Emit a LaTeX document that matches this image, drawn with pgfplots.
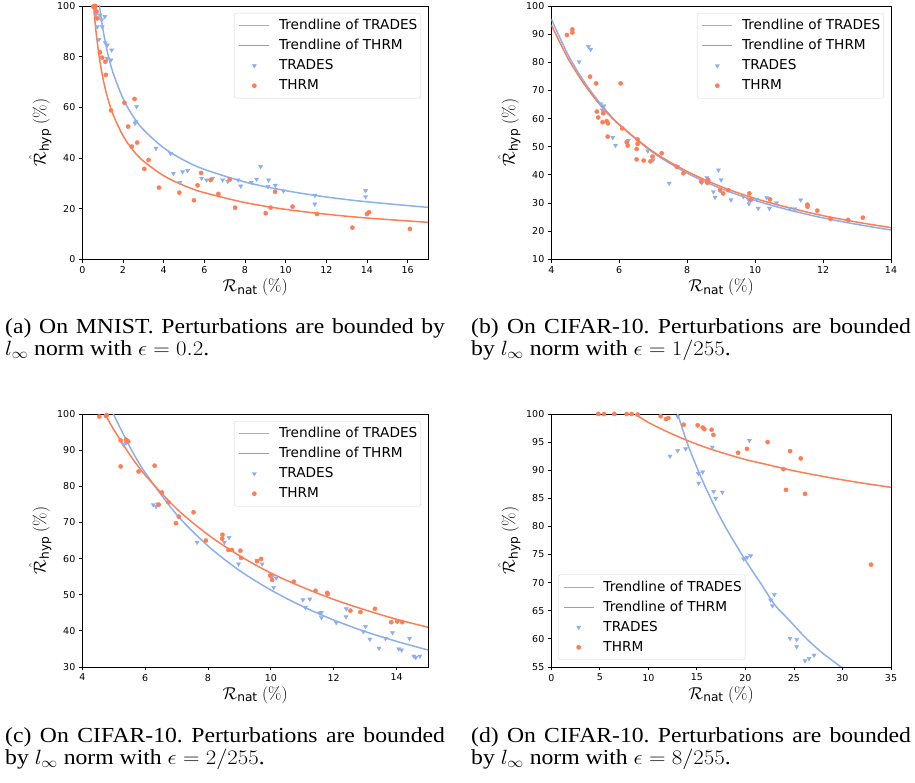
\documentclass[border=0pt]{standalone}
\usepackage{amsmath}
\usepackage[no-math]{fontspec}
\setmainfont{Liberation Serif}
\setsansfont{DejaVu Sans}
\usepackage{pgfplots}
\pgfplotsset{compat=1.18}

\definecolor{tradesblue}{RGB}{140,175,240}
\definecolor{thrmorange}{RGB}{255,125,85}
\definecolor{legframe}{RGB}{214,214,214}

\newcommand{\tickfont}{\fontsize{9.5}{11}\selectfont\sffamily}
\newcommand{\labfont}{\fontsize{17.5}{20}\selectfont}
\newcommand{\capfont}{\fontsize{21.5}{22.4}\selectfont\frenchspacing}

\pgfplotsset{
  panel/.style={
    scale only axis,
    axis line style={line width=0.8bp},
    tick align=outside, tick pos=left,
    major tick length=3.5bp,
    every tick/.style={black, line width=0.8bp},
    tick label style={font=\tickfont},
    /pgf/number format/assume math mode=true,
    xlabel={$\mathcal{R}_{\text{\sffamily nat}}\ (\%)$},
    ylabel={$\hat{\mathcal{R}}_{\text{\sffamily hyp}}\ (\%)$},
    every axis x label/.style={at={([yshift=-28bp]axis description cs:0.5,0)}, anchor=center, font=\labfont},
    every axis y label/.style={at={([xshift=-42bp]axis description cs:0,0.5)}, rotate=90, anchor=center, font=\labfont},
    legend cell align=left,
    legend style={font=\fontsize{13.7}{16}\selectfont\sffamily,
      draw=legframe, rounded corners=2bp, inner xsep=3bp, inner ysep=2.5bp,
      column sep=8.5bp, row sep=0bp,
      nodes={inner xsep=0.5bp, inner ysep=3.5bp, text height=10.2bp, text depth=2.8bp}},
  },
  trend/.style={line width=1.5bp, smooth, no marks, forget plot},
  bluelineimg/.style={legend image code/.code={%
    \pgfsetstrokecolor{tradesblue}\pgfsetlinewidth{1.5bp}%
    \pgfpathmoveto{\pgfqpoint{-2bp}{0bp}}\pgfusepath{discard}%
    \pgfpathmoveto{\pgfqpoint{0bp}{0bp}}\pgfpathlineto{\pgfqpoint{30bp}{0bp}}\pgfusepath{stroke}}},
  orangelineimg/.style={legend image code/.code={%
    \pgfsetstrokecolor{thrmorange}\pgfsetlinewidth{1.5bp}%
    \pgfpathmoveto{\pgfqpoint{-2bp}{0bp}}\pgfusepath{discard}%
    \pgfpathmoveto{\pgfqpoint{0bp}{0bp}}\pgfpathlineto{\pgfqpoint{30bp}{0bp}}\pgfusepath{stroke}}},
  dots/.style={only marks,
    legend image code/.code={\path (-2bp,0bp) (30bp,0bp); \draw[##1] plot coordinates {(15bp,0bp)};}},
  tradespts/.style={dots, mark=triangle*, mark size=2.4bp,
    mark options={rotate=180, draw=tradesblue, fill=tradesblue}},
  thrmpts/.style={dots, mark=*, mark size=2.1bp,
    mark options={draw=thrmorange, fill=thrmorange}},
}
\tikzset{
  subcap/.style={anchor=base west, text width=398bp, align=justify, inner sep=0pt,
    font=\capfont, xscale=1.105, transform shape},
}

\begin{document}
\begin{tikzpicture}
\useasboundingbox (0,0) rectangle (915bp,783bp);

% (a) MNIST
\begin{axis}[panel, at={(82.3bp,523.7bp)}, anchor=south west,
  width=345.7bp, height=253.3bp,
  xmin=0, xmax=17, ymin=0, ymax=100,
  xtick={0,2,...,16}, ytick={0,20,...,100},
  legend style={at={(1,1)}, anchor=north east, xshift=-7bp, yshift=-7bp}]
\addplot[trend, tradesblue] coordinates {(0.84,100.3)(0.9,96.7)(0.95,94.0)(1,91.5)(1.1,87.0)(1.25,81.3)(1.5,73.9)(2,63.5)(2.5,56.4)(3,51.2)(4,44.0)(5,39.1)(6,35.5)(8,30.5)(10,27.1)(12,24.6)(14,22.7)(17,20.5)};
\addplot[trend, thrmorange] coordinates {(0.56,99.9)(0.6,96.1)(0.65,91.9)(0.7,88.1)(0.8,81.7)(0.9,76.5)(1,72.1)(1.1,68.3)(1.25,63.6)(1.5,57.4)(2,48.8)(2.5,43.0)(3,38.8)(4,33.0)(5,29.1)(6,26.3)(8,22.4)(10,19.7)(12,17.8)(14,16.3)(17,14.6)};
\addlegendimage{bluelineimg}
\addlegendentry{Trendline of TRADES}
\addlegendimage{orangelineimg}
\addlegendentry{Trendline of THRM}
\addplot[tradespts] coordinates {(0.66,96.4)(0.87,96.4)(0.95,94.5)(1.11,95.8)(0.74,91.8)(0.98,91.8)(0.82,86.8)(1.13,85.5)(1.23,84.6)(1.44,82.6)(1.23,79.3)(1.41,78.7)(2.67,60.3)(2.64,54.3)(2.59,53.7)(3.62,43.8)(4.34,41.8)(4.48,33.9)(4.80,30.3)(4.93,34.6)(5.18,35.0)(5.87,32.0)(6.11,31.3)(6.41,32.0)(6.90,31.3)(7.15,30.7)(7.66,31.3)(7.79,28.9)(8.31,30.4)(8.57,31.6)(8.77,36.6)(9.16,31.3)(9.13,28.7)(9.49,29.2)(9.89,27.0)(11.44,25.3)(11.43,21.8)(13.93,27.1)(13.93,24.7)};
\addlegendentry{TRADES}
\addplot[thrmpts] coordinates {(0.54,99.7)(0.58,100)(0.62,99.1)(0.65,100)(0.70,97.8)(0.74,95.1)(0.87,81.7)(0.98,79.6)(1.13,78.0)(1.16,72.8)(1.41,58.8)(2.07,61.8)(2.57,63.3)(2.25,52.4)(2.70,46.1)(2.43,44.5)(3.05,35.7)(3.26,39.2)(3.77,28.3)(4.77,26.3)(5.49,23.3)(5.67,29.2)(5.84,34.1)(6.31,31.3)(6.69,25.8)(7.25,31.5)(7.51,20.4)(9.02,18.2)(9.26,20.4)(9.48,26.7)(10.34,20.8)(11.54,17.9)(13.28,12.5)(14.0,17.9)(14.1,18.6)(16.11,12.0)};
\addlegendentry{THRM}
\end{axis}

% (b) CIFAR-10, 1/255
\begin{axis}[panel, at={(551.3bp,523.7bp)}, anchor=south west,
  width=339.7bp, height=253.3bp,
  xmin=4, xmax=14, ymin=10, ymax=100,
  xtick={4,6,...,14}, ytick={10,20,...,100},
  legend style={at={(1,1)}, anchor=north east, xshift=-7bp, yshift=-7bp}]
\addplot[trend, tradesblue] coordinates {(4,95.4)(4.5,82.5)(5,72.5)(5.5,64.5)(6,57.9)(7,47.9)(8,40.6)(9,35.1)(10,30.9)(11,27.5)(12,24.7)(13,22.4)(14,20.4)};
\addplot[trend, thrmorange] coordinates {(4,93.3)(4.5,81.2)(5,71.7)(5.5,64.0)(6,57.8)(7,48.2)(8,41.2)(9,35.8)(10,31.6)(11,28.3)(12,25.5)(13,23.2)(14,21.25)};
\addlegendimage{bluelineimg}
\addlegendentry{Trendline of TRADES}
\addlegendimage{orangelineimg}
\addlegendentry{Trendline of THRM}
\addplot[tradespts] coordinates {(4.82,80.2)(5.09,85.6)(5.16,84.6)(5.45,65.2)(5.55,64.5)(5.5,63.0)(5.81,53.3)(5.89,50.5)(6.27,52.3)(6.84,48.5)(7.0,45.3)(7.47,37.0)(7.72,42.9)(8.43,37.2)(8.58,39.0)(8.77,34.0)(8.82,32.0)(8.92,41.7)(9.0,38.2)(8.97,34.4)(9.29,31.1)(9.65,32.3)(9.80,31.3)(9.82,29.7)(10.04,31.3)(10.09,28.1)(10.34,31.9)(10.42,28.1)(10.63,30.1)(11.03,28.1)(11.17,27.9)(11.34,31.1)};
\addlegendentry{TRADES}
\addplot[thrmpts] coordinates {(4.46,89.7)(4.62,91.7)(4.62,90.6)(5.14,74.9)(5.32,72.5)(6.04,72.5)(5.34,62.5)(5.38,60.4)(5.51,58.7)(5.53,61.9)(5.63,59.1)(5.67,58.3)(5.66,53.6)(6.09,56.5)(6.22,51.6)(6.25,50.4)(6.54,52.6)(6.54,51.0)(6.51,49.2)(6.51,45.5)(6.72,45.1)(6.92,44.8)(6.98,46.5)(7.25,47.7)(7.69,42.9)(7.89,40.6)(8.41,37.6)(8.59,37.2)(8.62,38.2)(8.97,34.6)(9.06,33.4)(9.21,34.6)(9.83,33.4)(9.87,31.1)(10.44,31.3)(11.54,29.4)(11.54,28.7)(11.83,27.3)(12.22,24.4)(12.74,24.0)(13.17,24.8)};
\addlegendentry{THRM}
\end{axis}

% (c) CIFAR-10, 2/255
\begin{axis}[panel, at={(82.3bp,116bp)}, anchor=south west,
  width=345.7bp, height=253bp,
  xmin=4, xmax=15, ymin=30, ymax=100,
  xtick={4,6,...,14}, ytick={30,40,...,100},
  legend style={at={(1,1)}, anchor=north east, xshift=-7bp, yshift=-7bp}]
\addplot[trend, tradesblue] coordinates {(4.99,100)(5.5,91.1)(6,83.8)(7,72.2)(8,63.5)(9,56.7)(10,51.3)(11,46.8)(12,43.0)(13,39.8)(14,37.1)(15,34.7)};
\addplot[trend, thrmorange] coordinates {(4.72,100)(5,95.7)(5.5,88.9)(6,83.1)(7,73.8)(8,66.6)(9,60.8)(10,56.0)(11,52.1)(12,48.7)(13,45.8)(14,43.2)(15,41.0)};
\addlegendimage{bluelineimg}
\addlegendentry{Trendline of TRADES}
\addlegendimage{orangelineimg}
\addlegendentry{Trendline of THRM}
\addplot[tradespts] coordinates {(5.31,91.5)(5.39,92.0)(5.41,92.7)(6.26,74.9)(6.35,74.4)(6.40,75.1)(7.65,64.5)(8.52,64.5)(8.67,65.8)(8.97,58.5)(9.56,59.5)(9.72,58.5)(10.04,55.0)(10.09,52.0)(10.17,54.6)(11.02,48.6)(11.24,48.8)(11.10,46.5)(11.56,44.9)(11.61,43.7)(11.61,45.1)(12.08,42.3)(12.40,46.1)(12.39,43.9)(12.94,39.8)(13.01,41.2)(13.15,37.7)(13.44,35.2)(13.65,37.9)(13.87,39.5)(14.07,35.0)(14.16,34.7)(14.41,37.9)(14.55,33.0)(14.61,32.6)(14.74,33.0)};
\addlegendentry{TRADES}
\addplot[thrmpts] coordinates {(4.54,99.3)(4.75,99.5)(4.78,99.7)(5.22,92.7)(5.22,85.5)(5.39,92.9)(5.46,92.4)(5.79,84.1)(6.30,85.7)(6.43,74.9)(6.53,78.3)(6.74,75.6)(7.07,71.6)(6.98,69.8)(7.54,72.8)(7.93,65.0)(8.46,66.6)(8.45,65.5)(8.65,62.4)(8.76,62.4)(9.03,62.2)(9.05,60.2)(9.56,59.3)(9.69,59.9)(9.98,55.3)(10.04,54.1)(10.73,53.6)(11.42,51.1)(11.79,50.5)(11.81,50.2)(12.53,45.6)(12.85,45.2)(13.31,46.1)(13.83,42.4)(14.02,42.6)(14.18,42.4)};
\addlegendentry{THRM}
\end{axis}

% (d) CIFAR-10, 8/255
\begin{axis}[panel, at={(551.3bp,116bp)}, anchor=south west,
  width=339.7bp, height=253bp,
  xmin=0, xmax=35, ymin=55, ymax=100,
  xtick={0,5,...,35}, ytick={55,60,...,100},
  legend style={at={(0,0)}, anchor=south west, xshift=7bp, yshift=7bp}]
\addplot[trend, tradesblue] coordinates {(13.02,100)(14.12,94.3)(15.49,88.5)(16.87,83.4)(18.24,79.0)(20,74.0)(21.68,69.6)(23.05,66.0)(24.42,63.5)(26.14,60.3)(27.86,57.6)(29.85,55)(30.5,54.1)};
\addplot[trend, thrmorange] coordinates {(8.62,100)(10,98.5)(12,96.8)(14,95.3)(16,94.0)(18,92.9)(20,91.9)(22,91.1)(25,89.9)(28,88.9)(31,88.0)(35,86.95)};
\addlegendimage{bluelineimg}
\addlegendentry{Trendline of TRADES}
\addlegendimage{orangelineimg}
\addlegendentry{Trendline of THRM}
\addplot[tradespts] coordinates {(13.02,99.6)(12.23,92.5)(13.02,93.5)(13.84,93.8)(16.59,94.1)(20.41,95.3)(15.15,89.4)(15.60,89.7)(15.18,87.7)(16.73,86.2)(16.94,85.0)(17.62,86.1)(19.82,74.2)(20.16,74.5)(20.54,74.8)(22.60,66.9)(22.78,65.9)(22.98,67.9)(24.60,60.1)(25.28,59.9)(25.28,58.6)(26.14,56.1)(26.55,56.5)(27.07,57.1)};
\addlegendentry{TRADES}
\addplot[thrmpts] coordinates {(4.84,100)(5.43,100)(6.49,100)(7.76,100)(8.28,100)(8.90,99.9)(11.27,99.6)(11.82,99.1)(12.06,99.3)(13.64,98.1)(15.08,98.0)(15.60,97.6)(15.77,97.3)(16.52,97.2)(16.70,96.3)(19.24,93.1)(20.16,93.8)(22.29,95.0)(23.91,90.2)(24.18,86.5)(24.60,93.4)(25.70,92.1)(26.14,85.8)(32.94,73.2)};
\addlegendentry{THRM}
\end{axis}

% captions
\node[subcap] at (5bp,449.7bp) {(a) On MNIST. Perturbations are bounded by\linebreak $l_\infty$ norm with $\epsilon = 0.2$.};
\node[subcap] at (471bp,449.7bp) {(b) On CIFAR-10. Perturbations are bounded\linebreak by $l_\infty$ norm with $\epsilon = 1/255$.};
\node[subcap] at (5bp,40.7bp) {(c) On CIFAR-10. Perturbations are bounded\linebreak by $l_\infty$ norm with $\epsilon = 2/255$.};
\node[subcap] at (471bp,40.7bp) {(d) On CIFAR-10. Perturbations are bounded\linebreak by $l_\infty$ norm with $\epsilon = 8/255$.};
\end{tikzpicture}
\end{document}
